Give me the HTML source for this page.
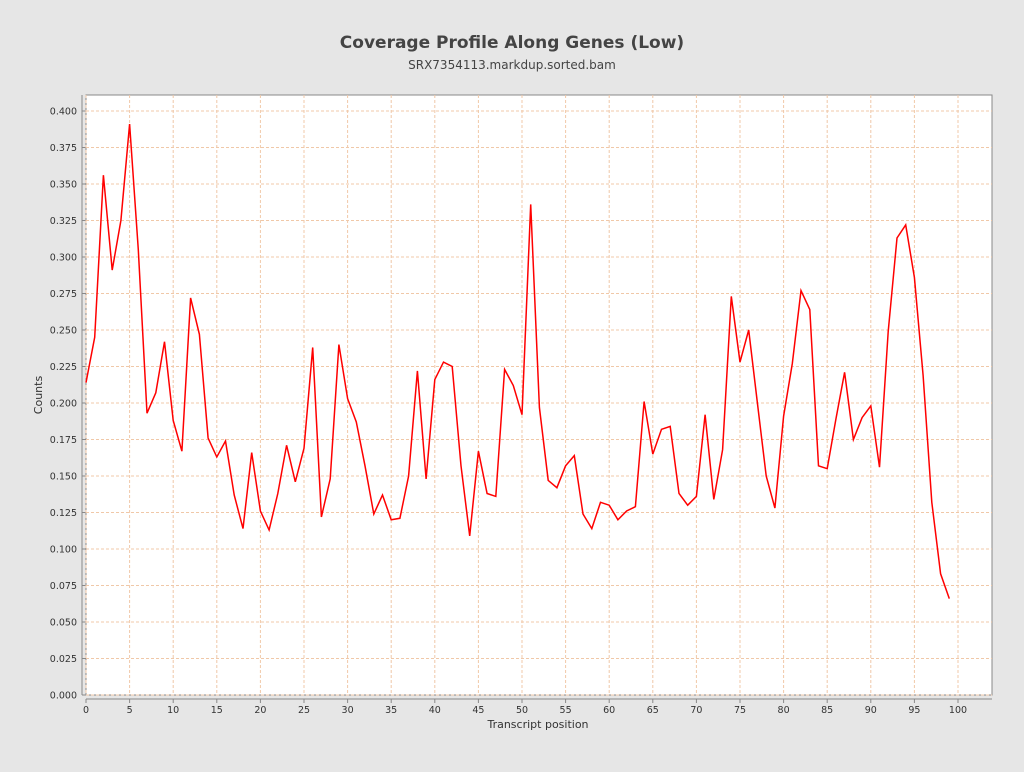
<!DOCTYPE html>
<html><head><meta charset="utf-8"><style>
body{margin:0;background:#e6e6e6;width:1024px;height:768px;overflow:hidden;font-family:"DejaVu Sans","Liberation Sans",sans-serif;}
</style></head><body>
<svg id="s" width="1024" height="768" xmlns="http://www.w3.org/2000/svg" font-family="DejaVu Sans, Liberation Sans, sans-serif">
<rect width="1024" height="768" fill="#e6e6e6"/>
<text x="512" y="48" text-anchor="middle" font-size="17" font-weight="bold" fill="#444">Coverage Profile Along Genes (Low)</text>
<text x="512" y="69" text-anchor="middle" font-size="12" fill="#444">SRX7354113.markdup.sorted.bam</text>
<rect x="86" y="95" width="906" height="600" fill="#fff" stroke="#888"/>
<g id="g"></g>
<text x="538" y="728" text-anchor="middle" font-size="11" fill="#333">Transcript position</text>
<text transform="translate(42,395) rotate(-90)" text-anchor="middle" font-size="11" fill="#333">Counts</text>
</svg>
<script>
var d=[0.214,0.245,0.356,0.291,0.325,0.391,0.305,0.193,0.207,0.242,0.188,0.167,0.272,0.247,0.176,0.163,0.174,0.137,0.114,0.166,0.126,0.113,0.138,0.171,0.146,0.169,0.238,0.122,0.148,0.240,0.203,0.187,0.157,0.124,0.137,0.120,0.121,0.150,0.222,0.148,0.216,0.228,0.225,0.157,0.109,0.167,0.138,0.136,0.223,0.212,0.192,0.336,0.197,0.147,0.142,0.157,0.164,0.124,0.114,0.132,0.130,0.120,0.126,0.129,0.201,0.165,0.182,0.184,0.138,0.130,0.136,0.192,0.134,0.168,0.273,0.228,0.250,0.200,0.150,0.128,0.191,0.227,0.277,0.264,0.157,0.155,0.189,0.221,0.175,0.190,0.198,0.156,0.249,0.313,0.322,0.286,0.219,0.132,0.083,0.066];
function X(v){return 86+v*8.72}function Y(v){return 695-v*1460}
var h='';
for(var i=0;i<=16;i++){var v=i*0.025,y=Y(v);
h+='<line x1="86" x2="992" y1="'+y+'" y2="'+y+'" stroke="#f0c8a8" stroke-dasharray="3,2"/>';
h+='<line x1="82" x2="86" y1="'+y+'" y2="'+y+'" stroke="#888"/>';
h+='<text x="77" y="'+(y+3.5)+'" text-anchor="end" font-size="9.5" fill="#333">'+v.toFixed(3)+'</text>';}
for(var i=0;i<=100;i+=5){var x=X(i);
h+='<line y1="95" y2="695" x1="'+x+'" x2="'+x+'" stroke="#f0c8a8" stroke-dasharray="3,2"/>';
h+='<line y1="699" y2="703" x1="'+x+'" x2="'+x+'" stroke="#888"/>';
h+='<text y="713" x="'+x+'" text-anchor="middle" font-size="9.5" fill="#333">'+i+'</text>';}
h+='<line x1="86" x2="992" y1="699" y2="699" stroke="#888"/><line x1="82" x2="82" y1="95" y2="695" stroke="#888"/>';
var p=d.map(function(v,i){return X(i).toFixed(1)+','+Y(v).toFixed(1)}).join(' ');
h+='<polyline points="'+p+'" fill="none" stroke="#f00" stroke-width="1.5"/>';
document.getElementById('g').innerHTML=h;
</script>
</body></html>
